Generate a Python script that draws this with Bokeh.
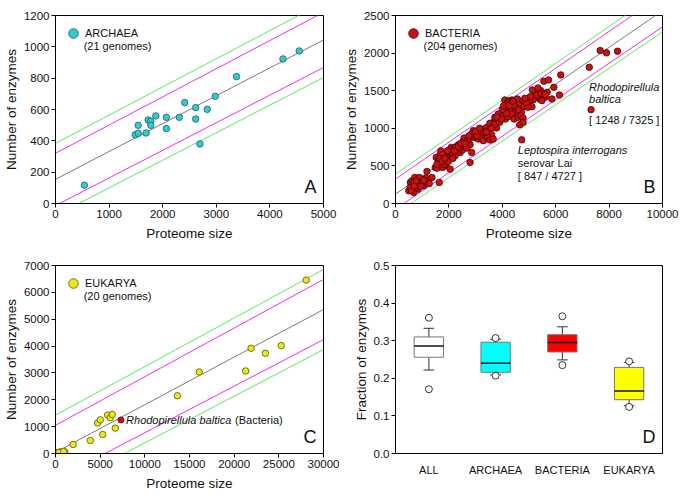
import numpy as np
from bokeh.plotting import figure
from bokeh.layouts import gridplot
from bokeh.models import Label, Legend, LegendItem, Range1d, FixedTicker, NumeralTickFormatter
from bokeh.embed import file_html
from bokeh.resources import INLINE

FONT = "Liberation Sans"

# ---------------- data ----------------
# Panel A: Archaea (proteome size, number of enzymes)
arch_x = [539, 1487, 1543, 1543, 1691, 1729, 1778, 1778, 1871, 2069, 2069,
          2311, 2410, 2615, 2615, 2695, 2831, 2980, 3377, 4244, 4548]
arch_y = [117, 439, 448, 499, 450, 533, 525, 499, 559, 550, 478,
          550, 644, 612, 539, 380, 601, 684, 810, 923, 974]

# Panel B: Bacteria
bact_x = [496, 558, 620, 645, 720, 744, 806, 844, 893, 930, 993, 1017, 1092, 1141, 1216,
          682, 769, 868, 968, 1054, 1179, 1179, 1365, 558, 682, 893, 1117, 1266, 600, 780,
          1000, 1060, 950, 700,
          1489, 1526, 1588, 1638, 1675, 1737, 1799, 1836, 1886, 1923, 1960, 2010, 1861, 1712,
          2047, 1762, 1638, 1550, 1600, 1700, 1820, 1900, 1980, 2040, 1780,
          1985, 2084, 2171, 2258, 2357, 2457, 2543, 2630, 2730, 2829, 2295, 2419, 2506, 2605,
          2705, 2792, 2792, 2854, 2667, 2109, 2233, 2568, 2506, 2150, 2300, 2400, 2700, 2900, 2950,
          2916, 3040, 3127, 3226, 3325, 3412, 3499, 3573, 3660, 3747, 3846, 3945, 3536, 3722,
          3846, 2978, 3102, 3226, 3350, 3474, 3598, 3784, 3288, 3449, 2978, 3164, 3536, 3660,
          2854, 3050, 3300, 3700, 3900,
          4094, 4194, 4280, 4367, 4467, 4566, 4653, 4777, 4814, 4715, 4529, 4404, 4280, 4156,
          4094, 4032, 4119, 3970, 4218, 4342, 4442, 4591, 4690, 4777, 4653, 4777, 4156, 4318,
          4000, 4450, 4900, 4600,
          5558, 5732, 6191, 5930, 5856, 6141, 5211, 5335, 5434, 5521, 5608, 5397, 5273, 5149,
          5025, 5112, 4963, 4901, 5335, 5484, 5682, 5124, 5300, 5450, 5050, 5600,
          7258, 7667, 7903, 8313, 7325, 4727,
          1550, 1650, 1750, 1850, 1950, 2200, 2350, 2450, 2600, 2750, 3000, 3150, 3400, 3600,
          3800, 4050, 4250, 4400, 4850]
bact_y = [169, 280, 302, 191, 346, 258, 302, 191, 280, 324, 258, 302, 280, 337, 302,
          147, 213, 235, 324, 235, 266, 426, 346, 213, 280, 346, 280, 266, 170, 300,
          290, 310, 230, 230,
          480, 613, 502, 577, 648, 533, 613, 568, 502, 577, 648, 613, 635, 591,
          457, 480, 280, 470, 560, 700, 520, 620, 560, 680, 650,
          702, 746, 724, 755, 781, 746, 799, 835, 857, 888, 679, 679, 710, 768,
          799, 781, 546, 679, 737, 657, 635, 870, 813, 600, 720, 740, 840, 930, 880,
          968, 946, 924, 946, 990, 1012, 968, 1035, 1079, 1101, 1110, 1137, 1066, 1146,
          1190, 879, 857, 879, 901, 870, 915, 1004, 835, 879, 924, 968, 844, 857,
          924, 900, 950, 1050, 1080,
          1377, 1345, 1368, 1377, 1345, 1390, 1323, 1368, 1288, 1212, 1212, 1234, 1257, 1279,
          1234, 1168, 1123, 1123, 1155, 1190, 1123, 1146, 1168, 1137, 1048, 1079, 1199, 1314,
          1250, 1300, 1330, 1250,
          1625, 1643, 1710, 1545, 1390, 1443, 1456, 1479, 1501, 1434, 1412, 1390, 1412, 1377,
          1368, 1288, 1279, 1345, 1536, 1368, 1479, 1510, 1440, 1460, 1420, 1450,
          1812, 2034, 2003, 2025, 1248, 847,
          520, 600, 560, 600, 700, 700, 760, 800, 800, 900, 960, 1000, 950, 1000,
          1150, 1300, 1300, 1360, 1400]

# Panel C: Eukarya
euk_x = [111, 557, 1040, 400, 900, 1970, 3900, 4720, 5017, 5277, 5834, 6131, 6354, 6689,
         13640, 16090, 21290, 21890, 23490, 25270, 28060]
euk_y = [37, 62, 62, 40, 70, 336, 485, 1132, 1256, 709, 1430, 1331, 1455, 945,
         2151, 3035, 3072, 3918, 3731, 4017, 6455]
rhodo_x = [7325]
rhodo_y = [1248]

# Regression lines: intercept, slope; band half-widths at x=0 and x=xmax
fitA = dict(b=154, m=0.178, mag=(167, 176), grn=(230, 240))
fitB = dict(b=125, m=0.2439, mag=(200, 215), grn=(266, 280))
fitC = dict(b=45, m=0.1772, mag=(1005, 1120), grn=(1385, 1490))

# Panel D: fraction of enzymes box plots
box_cats = ["ALL", "ARCHAEA", "BACTERIA", "EUKARYA"]
box_q1 = [0.256, 0.216, 0.270, 0.143]
box_q3 = [0.310, 0.296, 0.316, 0.229]
box_med = [0.286, 0.240, 0.295, 0.166]
box_wlo = [0.222, 0.209, 0.249, 0.127]
box_whi = [0.333, 0.304, 0.337, 0.242]
box_out_hi = [0.361, 0.307, 0.365, 0.245]
box_out_lo = [0.171, 0.207, 0.235, 0.124]
box_colors = ["#ffffff", "#00ffff", "#ff0000", "#ffff00"]

# ---------------- helpers ----------------
def style_axes(p):
    for ax in (p.xaxis[0], p.yaxis[0]):
        ax.axis_line_color = "black"
        ax.major_tick_out = 4
        ax.major_tick_in = 0
        ax.minor_tick_out = 0
        ax.minor_tick_in = 0
        ax.major_tick_line_color = "black"
        ax.major_label_text_font = FONT
        ax.major_label_text_font_size = "11.5px"
        ax.major_label_text_color = "#111111"
        ax.axis_label_text_font = FONT
        ax.axis_label_text_font_style = "normal"
        ax.axis_label_text_font_size = "13.5px"
        ax.axis_label_text_color = "#111111"
        ax.major_label_standoff = 2
        ax.axis_label_standoff = 2
    p.xaxis[0].axis_label_standoff = 5
    p.xaxis[0].formatter = NumeralTickFormatter(format="0")
    p.yaxis[0].formatter = NumeralTickFormatter(format="0")


def make_fig(w, h, xmax, ymax, xstep, ystep, bl, br, bt, bb, xlabel, ylabel):
    p = figure(width=w, height=h, x_range=Range1d(0, xmax), y_range=Range1d(0, ymax),
               output_backend="svg", toolbar_location=None,
               min_border_left=bl, min_border_right=br, min_border_top=bt, min_border_bottom=bb,
               x_axis_label=xlabel, y_axis_label=ylabel)
    p.grid.visible = False
    p.outline_line_color = "black"
    p.outline_line_width = 1
    p.outline_line_alpha = 1
    p.background_fill_color = "white"
    p.border_fill_color = "white"
    p.xaxis.ticker = FixedTicker(ticks=list(np.arange(0, xmax + 1, xstep)))
    p.yaxis.ticker = FixedTicker(ticks=list(np.arange(0, ymax + 1e-9, ystep)))
    style_axes(p)
    return p


def add_bands(p, fit, xmax):
    xs = np.array([0.0, xmax])
    center = fit["b"] + fit["m"] * xs
    p.line(xs, center, line_color="#7a7a7a", line_width=1)
    for key, col in (("mag", "#f02cf0"), ("grn", "#5ee85e")):
        hw = np.array(fit[key], dtype=float)
        p.line(xs, center + hw, line_color=col, line_width=1)
        p.line(xs, center - hw, line_color=col, line_width=1)


def add_legend(p, xs, ys, fill, line, name, count, xmax, ymax):
    # legend-only renderer (hidden in the plot, drawn larger in the legend)
    r = p.scatter(xs[:1], ys[:1], size=10, fill_color=fill, line_color=line, line_width=0.8)
    r.visible = False
    leg = Legend(items=[LegendItem(label=name, renderers=[r])], location="top_left",
                 margin=0, padding=6, glyph_width=24, glyph_height=24, label_standoff=0,
                 background_fill_alpha=0, border_line_alpha=0, label_text_font=FONT,
                 label_text_font_size="11px", label_height=16, spacing=0,
                 label_text_color="#111111", inactive_fill_alpha=0, click_policy="none")
    p.add_layout(leg)
    p.add_layout(Label(x=xmax * 0.105, y=ymax * 0.84, text=count, text_font=FONT,
                       text_font_size="11px", text_baseline="middle", text_color="#111111"))


def add_letter(p, letter, xmax, ymax):
    p.add_layout(Label(x=xmax * 0.974, y=ymax * 0.035, text=letter, text_font=FONT,
                       text_font_size="18px", text_align="right", text_baseline="bottom",
                       text_color="#111111"))

# ---------------- Panel A ----------------
pA = make_fig(340, 250, 5000, 1200, 1000, 200, 54, 17, 15, 47, "Proteome size", "Number of enzymes")
add_bands(pA, fitA, 5000)
pA.scatter(arch_x, arch_y, size=6.5, fill_color="#2fcdd2", line_color="#2a5a5e", line_width=0.8)
add_legend(pA, arch_x, arch_y, "#2fcdd2", "#2a5a5e", "ARCHAEA", "(21 genomes)", 5000, 1200)
add_letter(pA, "A", 5000, 1200)

# ---------------- Panel B ----------------
pB = make_fig(344, 250, 10000, 2500, 2000, 500, 53, 22, 15, 47, "Proteome size", "Number of enzymes")
add_bands(pB, fitB, 10000)
pB.scatter(bact_x, bact_y, size=6.5, fill_color="#c81212", line_color="#4a0000", line_width=0.8)
add_legend(pB, bact_x, bact_y, "#c81212", "#4a0000", "BACTERIA", "(204 genomes)", 10000, 2500)
add_letter(pB, "B", 10000, 2500)
for txt, xx, yy, st in [("Rhodopirellula", 7250, 1543, "italic"), ("baltica", 7250, 1383, "italic"),
                        ("[ 1248 / 7325 ]", 7250, 1104, "normal"),
                        ("Leptospira interrogans", 4580, 718, "italic"), ("serovar Lai", 4580, 532, "normal"),
                        ("[ 847 / 4727 ]", 4580, 372, "normal")]:
    pB.add_layout(Label(x=xx, y=yy, text=txt, text_font=FONT, text_font_size="11px",
                        text_font_style=st, text_baseline="middle", text_color="#111111"))

# ---------------- Panel C ----------------
pC = make_fig(340, 250, 30000, 7000, 5000, 1000, 54, 17, 15, 47, "Proteome size", "Number of enzymes")
add_bands(pC, fitC, 30000)
pC.scatter(euk_x, euk_y, size=6.5, fill_color="#e8e81a", line_color="#55550a", line_width=0.8)
pC.scatter(rhodo_x, rhodo_y, size=6, fill_color="#c81212", line_color="#4a0000", line_width=0.8)
add_legend(pC, euk_x, euk_y, "#e8e81a", "#55550a", "EUKARYA", "(20 genomes)", 30000, 7000)
add_letter(pC, "C", 30000, 7000)
pC.add_layout(Label(x=7900, y=1248, text="Rhodopirellula baltica", text_font=FONT, text_font_size="11px",
                    text_font_style="italic", text_baseline="middle", text_color="#111111"))
pC.add_layout(Label(x=20100, y=1248, text="(Bacteria)", text_font=FONT, text_font_size="11px",
                    text_baseline="middle", text_color="#111111"))

# ---------------- Panel D ----------------
pD = make_fig(344, 250, 4, 0.5, 1, 0.1, 53, 22, 15, 47, "", "Fraction of enzymes")
pD.yaxis.formatter = NumeralTickFormatter(format="0.0")
xc = np.arange(len(box_cats)) + 0.5
pD.xaxis.ticker = FixedTicker(ticks=list(xc))
pD.xaxis.major_label_overrides = {float(v): c for v, c in zip(xc, box_cats)}
pD.xaxis.major_tick_out = 0
pD.xaxis.major_label_standoff = 10
pD.xaxis.major_label_text_font_size = "11px"
hw = 0.22
cw = 0.08
pD.segment(xc, box_q3, xc, box_whi, line_color="#333333", line_width=1)
pD.segment(xc, box_q1, xc, box_wlo, line_color="#333333", line_width=1)
pD.segment(xc - cw, box_whi, xc + cw, box_whi, line_color="#333333", line_width=1)
pD.segment(xc - cw, box_wlo, xc + cw, box_wlo, line_color="#333333", line_width=1)
pD.vbar(x=xc, top=box_q3, bottom=box_q1, width=2 * hw, fill_color=box_colors,
        line_color="#777777", line_width=1)
pD.segment(xc - hw, box_med, xc + hw, box_med, line_color="#111111", line_width=1.5)
pD.scatter(xc, box_out_hi, size=7, fill_color="white", line_color="#333333", line_width=1)
pD.scatter(xc, box_out_lo, size=7, fill_color="white", line_color="#333333", line_width=1)
add_letter(pD, "D", 4, 0.5)

grid = gridplot([[pA, pB], [pC, pD]], toolbar_location=None)

open("out.html", "w").write(file_html(grid, INLINE))
